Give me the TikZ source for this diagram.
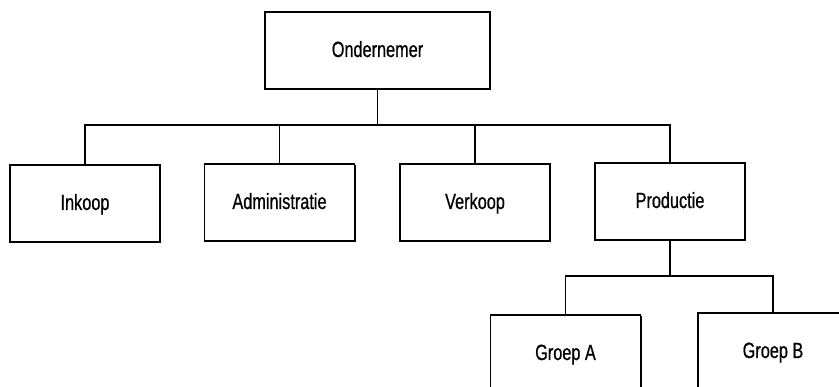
\documentclass[tikz,border=0pt]{standalone}
\usepackage{fontspec}
\setmainfont[FakeStretch=0.74,FakeBold=0.7]{Liberation Sans}
\usepackage{tikz}
\usetikzlibrary{shadows}

\tikzset{
	unit/.style={draw, line width=1.8pt, fill=white, minimum width=150pt, minimum height=77pt,
		inner sep=0pt, text height=16pt, text depth=3pt, font=\fontsize{22}{25}\selectfont,
		drop shadow={shadow xshift=1pt, shadow yshift=-1pt, fill=black, opacity=1}},
	link/.style={line width=1.1pt}
}

\begin{document}
\begin{tikzpicture}[x=1pt, y=-1pt]
	\useasboundingbox (0,0) rectangle (839,387);
	\fill[white] (0,0) rectangle (839,387);
	\clip (0,0) rectangle (839,387);
	% top
	\node[unit, minimum width=225pt] (ond) at (377.5,50.5){Ondernemer};
	% afdelingen
	\node[unit] (ink) at (85,203.5){Inkoop};
	\node[unit] (adm) at (279.5,202.5){Administratie};
	\node[unit] (ver) at (475,202.5){Verkoop};
	\node[unit] (prod) at (670,201.5){Productie};
	% groepen
	\node[unit] (ga) at (565.5,353.5){Groep A};
	\node[unit] (gb) at (773,351.5){Groep B};
	% lijnen
	\coordinate (bus) at (377.5,125);
	\coordinate (sub) at (670,276);
	\draw[link] (ond.south) -- (bus);
	\draw[link] (ink.north) |- (bus) -| (prod.north);
	\draw[link] (adm.north) -- (adm.north |- bus);
	\draw[link] (ver.north) -- (ver.north |- bus);
	\draw[link] (prod.south) -- (sub);
	\draw[link] (ga.north) |- (sub) -| (gb.north);
\end{tikzpicture}
\end{document}
